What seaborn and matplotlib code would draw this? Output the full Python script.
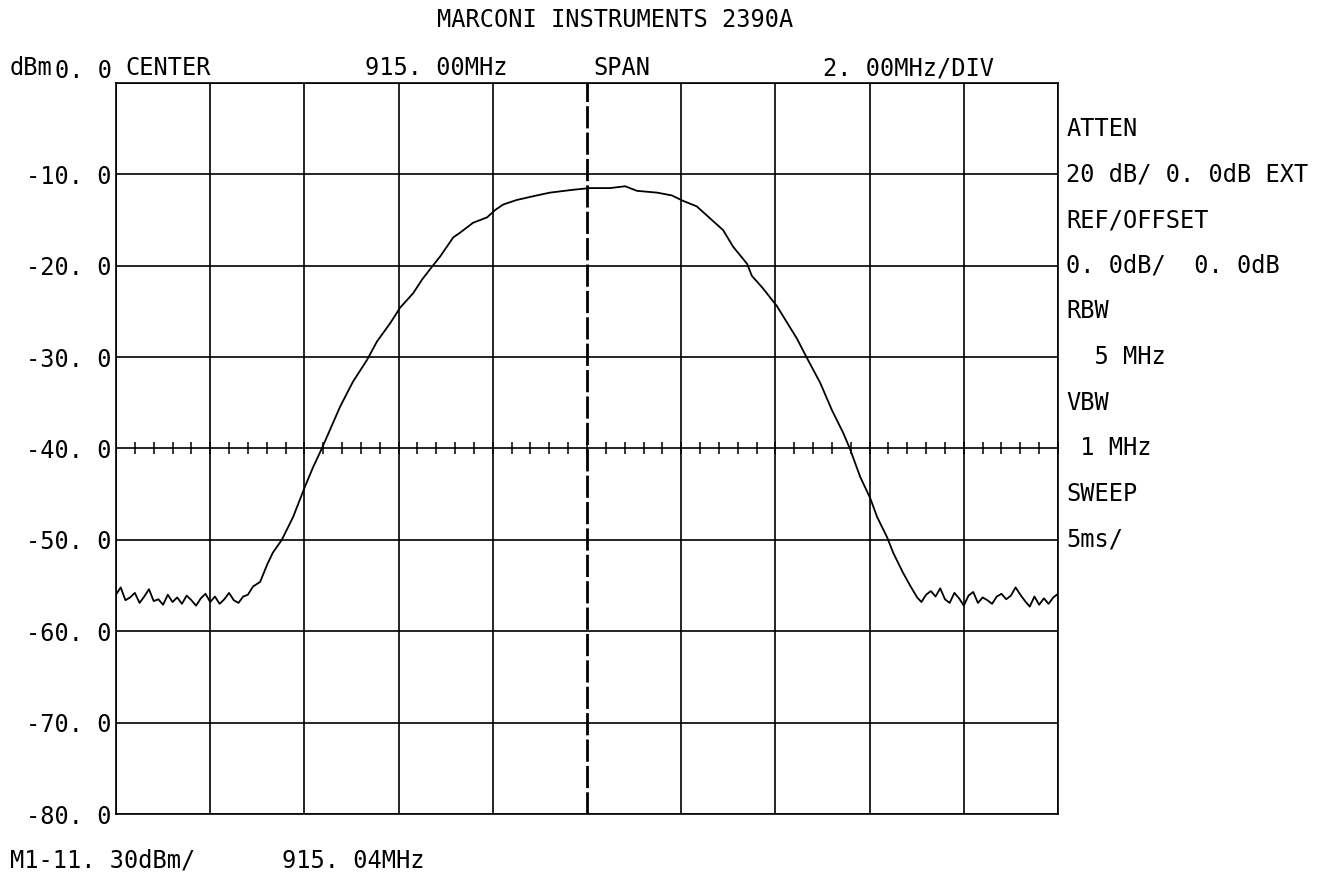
import numpy as np
import pandas as pd
import matplotlib
matplotlib.use("Agg")
import matplotlib.pyplot as plt
import seaborn as sns

# ---------------- data ----------------
title = "MARCONI INSTRUMENTS 2390A"
center_mhz = 915.0
span_per_div = 2.0
ref_level = 0.0
db_per_div = 10.0

# left noise floor (905.0 .. 907.8 MHz, 0.1 MHz step)
noise_left_db = [-56.0, -55.2, -56.6, -56.3, -55.8, -56.9, -56.2, -55.4, -56.7, -56.5,
                 -57.1, -56.0, -56.8, -56.3, -57.0, -56.1, -56.6, -57.2, -56.4, -55.9,
                 -56.8, -56.2, -57.0, -56.5, -55.8, -56.6, -56.9, -56.2, -56.0]
noise_left_mhz = [905.0 + 0.1 * i for i in range(len(noise_left_db))]

# main response (frequency MHz, level dBm)
resp_mhz = [907.91, 908.06, 908.21, 908.33, 908.52, 908.76, 909.01, 909.18, 909.37,
            909.48, 909.76, 910.03, 910.33, 910.54, 910.82, 911.03, 911.31, 911.50,
            911.71, 911.88, 912.16, 912.30, 912.58, 912.88, 913.05, 913.22, 913.51,
            913.85, 914.21, 914.68, 915.06, 915.49, 915.81, 916.06, 916.49, 916.80,
            917.04, 917.33, 917.61, 917.89, 918.10, 918.40, 918.50, 918.74, 919.03,
            919.46, 919.67, 919.95, 920.20, 920.44, 920.58, 920.80, 921.01, 921.16,
            921.37, 921.50, 921.71, 921.86, 922.01]
resp_db = [-55.1, -54.6, -52.7, -51.4, -50.0, -47.5, -44.2, -42.1, -40.0,
           -38.7, -35.4, -32.7, -30.3, -28.3, -26.3, -24.6, -23.0, -21.5,
           -20.1, -19.0, -16.9, -16.4, -15.3, -14.7, -13.9, -13.3, -12.8,
           -12.4, -12.0, -11.7, -11.5, -11.5, -11.3, -11.8, -12.0, -12.3,
           -12.9, -13.5, -14.8, -16.1, -17.9, -19.8, -21.1, -22.5, -24.4,
           -28.0, -30.1, -32.8, -35.8, -38.3, -40.0, -43.1, -45.4, -47.5,
           -49.7, -51.4, -53.6, -55.0, -56.3]

# right noise floor (922.1 .. 925.0 MHz, 0.1 MHz step)
noise_right_db = [-56.8, -56.0, -55.6, -56.2, -55.3, -56.5, -56.9, -55.8, -56.4, -57.2,
                  -56.1, -55.7, -56.9, -56.3, -56.6, -57.0, -56.2, -55.9, -56.5, -56.1,
                  -55.2, -56.0, -56.7, -57.3, -56.2, -57.1, -56.4, -57.0, -56.3, -55.9]
noise_right_mhz = [922.1 + 0.1 * i for i in range(len(noise_right_db))]

ytick_labels = ["-80. 0", "-70. 0", "-60. 0", "-50. 0", "-40. 0",
                "-30. 0", "-20. 0", "-10. 0", "0. 0"]
header_texts = ["CENTER", "915. 00MHz", "SPAN", "2. 00MHz/DIV"]
side_texts = ["ATTEN", "20 dB/ 0. 0dB EXT", "REF/OFFSET", "0. 0dB/  0. 0dB",
              "RBW", "  5 MHz", "VBW", " 1 MHz", "SWEEP", "5ms/"]
marker_text = "M1-11. 30dBm/"
marker_freq_text = "915. 04MHz"

# ---------------- build frame ----------------
df = pd.DataFrame({
    "freq": noise_left_mhz + resp_mhz + noise_right_mhz,
    "level": noise_left_db + resp_db + noise_right_db,
})

sns.set_style("white")
plt.rcParams["font.family"] = ["DejaVu Sans Mono", "DejaVu Sans"]
plt.rcParams["text.color"] = "black"
plt.rcParams["ytick.color"] = "black"
plt.rcParams["ytick.labelcolor"] = "black"
FS = 17

fig = plt.figure(figsize=(13.38, 8.77), dpi=100)
ax = fig.add_axes([116 / 1338, 1 - 814 / 877, (1058 - 116) / 1338, (814 - 83) / 877])

fmin = center_mhz - 5 * span_per_div
fmax = center_mhz + 5 * span_per_div
ymin = ref_level - 8 * db_per_div
ymax = ref_level

# grid
xg = np.arange(fmin, fmax + 0.001, span_per_div)
yg = np.arange(ymin, ymax + 0.001, db_per_div)
for xv in xg:
    if abs(xv - center_mhz) > 1e-6:
        ax.axvline(xv, color="black", lw=1.2, zorder=1)
for yv in yg:
    ax.axhline(yv, color="black", lw=1.2, zorder=1)
# center marker line (dashed, heavier)
ax.axvline(center_mhz, color="black", lw=2.0, ls=(0, (8, 1.5)), zorder=2)

# minor ticks on the -40 dB graticule line
minor_x = np.arange(fmin, fmax + 0.001, span_per_div / 5)
ax.plot(minor_x, np.full_like(minor_x, -40.0), ls="none", marker="|",
        ms=9, mew=1.1, color="black", zorder=2)

sns.lineplot(data=df, x="freq", y="level", ax=ax, color="black", lw=1.3,
             sort=False, zorder=3)

ax.set_xlim(fmin, fmax)
ax.set_ylim(ymin, ymax)
ax.set_xticks([])
ax.set_yticks(yg)
ax.set_yticklabels(ytick_labels, fontsize=FS, color="black")
ax.tick_params(axis="y", length=0, pad=3)
lbls = ax.get_yticklabels()
lbls[-1].set_verticalalignment("bottom")
ax.set_xlabel("")
ax.set_ylabel("")
for s in ax.spines.values():
    s.set_color("black")
    s.set_linewidth(1.2)

# header annotations above the graticule
fig.text(10 / 1338, 1 - 80 / 877, "dBm", fontsize=FS, va="bottom", ha="left")
hx = [(125 - 116) / 942, (365 - 116) / 942, (593 - 116) / 942, (823 - 116) / 942]
for t, xx in zip(header_texts, hx):
    ax.text(xx, 1.004, t, transform=ax.transAxes, fontsize=FS, va="bottom", ha="left")

# right-hand settings column
side_y = [-5 * (i + 1) for i in range(len(side_texts))]
for t, yy in zip(side_texts, side_y):
    ax.text(1.009, yy, t, transform=ax.get_yaxis_transform(), fontsize=FS,
            va="center", ha="left")

fig.text(615 / 1338, 1 - 20 / 877, title, fontsize=FS, ha="center", va="center")
fig.text(10 / 1338, 1 - 861 / 877, marker_text, fontsize=FS, ha="left", va="center")
fig.text(282 / 1338, 1 - 861 / 877, marker_freq_text, fontsize=FS, ha="left", va="center")

fig.savefig("out.png", dpi=100, facecolor="white")
